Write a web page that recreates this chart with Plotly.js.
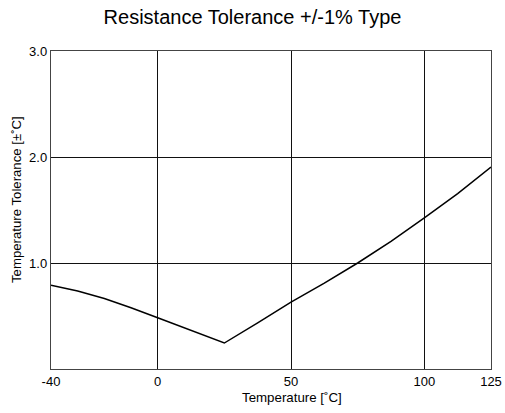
<!DOCTYPE html>
<html>
<head>
<meta charset="utf-8">
<script src="https://cdn.plot.ly/plotly-3.0.1.min.js"></script>
<style>html,body{margin:0;padding:0;background:#fff;}#chart{width:505px;height:413px;}</style>
</head>
<body>
<div id="chart"></div>
<script>
const temperature = [-40, -30, -20, -10, 0, 10, 20, 25, 37.5, 50, 62.5, 75, 87.5, 100, 112.5, 125];
const tolerance   = [0.79, 0.735, 0.665, 0.578, 0.483, 0.385, 0.29, 0.245, 0.435, 0.63, 0.81, 1.0, 1.205, 1.425, 1.655, 1.905];
const xTicks = [-40, 0, 50, 100, 125];
const xTickText = ['-40', '0', '50', '100', '125'];
const yTicks = [1, 2, 3];
const yTickText = ['1.0', '2.0', '3.0'];
const xTitle = 'Temperature [˚C]';
const yTitle = 'Temperature Tolerance [±˚C]';

const font = 'Liberation Sans, Arial, sans-serif';
Plotly.newPlot('chart', [{
  x: temperature, y: tolerance, type: 'scatter', mode: 'lines',
  line: {color: '#000', width: 1.5}, hoverinfo: 'none'
}], {
  width: 505, height: 413,
  margin: {l: 51, r: 14, t: 51, b: 44},
  paper_bgcolor: '#fff', plot_bgcolor: '#fff',
  showlegend: false,
  title: {text: 'Resistance Tolerance +/-1% Type', font: {family: font, size: 20, color: '#000'}, x: 0.5, xanchor: 'center', y: 0.958, yanchor: 'middle'},
  xaxis: {
    range: [-40, 125], tickvals: xTicks, ticktext: xTickText,
    showgrid: true, gridcolor: '#111', gridwidth: 1,
    showline: true, linecolor: '#444', linewidth: 1.2, mirror: true,
    ticks: '', zeroline: false,
    tickfont: {family: font, size: 13, color: '#000'}
  },
  yaxis: {
    range: [0, 3], tickvals: yTicks, ticktext: yTickText,
    showgrid: true, gridcolor: '#111', gridwidth: 1,
    showline: true, linecolor: '#444', linewidth: 1.2, mirror: true,
    ticks: '', zeroline: false,
    tickfont: {family: font, size: 13, color: '#000'}
  },
  annotations: [
    {text: xTitle, xref: 'paper', yref: 'paper', x: (292 - 51) / 440, y: -(397 - 369) / 318,
     xanchor: 'center', yanchor: 'middle', showarrow: false, font: {family: font, size: 13.3, color: '#000'}},
    {text: yTitle, xref: 'paper', yref: 'paper', x: (16 - 51) / 440, y: (369 - 200) / 318,
     xanchor: 'center', yanchor: 'middle', textangle: -90, showarrow: false, font: {family: font, size: 13.2, color: '#000'}}
  ]
}, {staticPlot: true, displayModeBar: false});
</script>
</body>
</html>
